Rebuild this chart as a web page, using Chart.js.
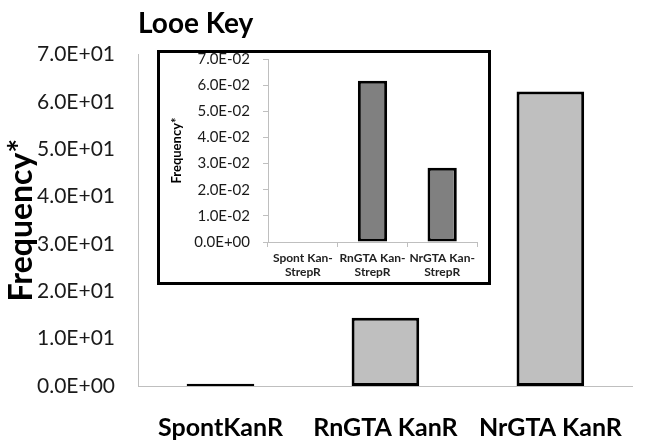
<!DOCTYPE html>
<html>
<head>
<meta charset="utf-8">
<script src="https://cdn.jsdelivr.net/npm/chart.js@4.4.1/dist/chart.umd.min.js"></script>
<style>
html,body{margin:0;padding:0;background:#fff;}
#wrap{position:relative;width:652px;height:440px;overflow:hidden;background:#fff;}
#main{position:absolute;left:0;top:0;}
#insetBox{position:absolute;left:157px;top:50px;width:328px;height:229px;border:3px solid #000;background:#fff;}
#inset{position:absolute;left:160px;top:37px;}
</style>
</head>
<body>
<div id="wrap">
  <canvas id="main" width="652" height="440"></canvas>
  <div id="insetBox"></div>
  <canvas id="inset" width="328" height="245"></canvas>
</div>
<script>
// ---- data ----
const chartTitle = 'Looe Key';
const mainCategories = ['SpontKanR', 'RnGTA KanR', 'NrGTA KanR'];
const mainValues = [0.5, 14.4, 62.2];
const mainTickLabels = ['0.0E+00','1.0E+01','2.0E+01','3.0E+01','4.0E+01','5.0E+01','6.0E+01','7.0E+01'];
const insetCategories = [['Spont Kan-','StrepR'], ['RnGTA Kan-','StrepR'], ['NrGTA Kan-','StrepR']];
const insetValues = [0, 0.0617, 0.0284];
const insetTickLabels = ['0.0E+00','1.0E-02','2.0E-02','3.0E-02','4.0E-02','5.0E-02','6.0E-02','7.0E-02'];
const yTitle = 'Frequency*';

const FONT = 'Lato, "Open Sans", sans-serif';
const AXIS_GRAY = '#bfbfbf';

new Chart(document.getElementById('main'), {
  type: 'bar',
  data: {
    labels: mainCategories,
    datasets: [{
      data: mainValues,
      backgroundColor: '#bfbfbf',
      borderColor: '#000',
      borderWidth: 3,
      borderSkipped: false,
      categoryPercentage: 1,
      barPercentage: 0.41
    }]
  },
  options: {
    responsive: false,
    animation: false,
    layout: { padding: { left: 0, right: 7, top: 0, bottom: 0 } },
    plugins: {
      legend: { display: false },
      tooltip: { enabled: false },
      title: {
        display: true, text: chartTitle, align: 'start', fullSize: false,
        color: '#000', font: { family: FONT, size: 28, weight: 'bold' },
        padding: { top: 7, bottom: 14 }
      }
    },
    scales: {
      x: {
        grid: { display: false, drawTicks: false },
        border: { display: true, color: AXIS_GRAY, width: 1 },
        ticks: { color: '#000', font: { family: FONT, size: 25, weight: 'bold' }, padding: 27, maxRotation: 0, autoSkip: false },
        afterFit: s => { s.height = 54; }
      },
      y: {
        min: 0, max: 70,
        grid: { display: false, drawTicks: false },
        border: { display: true, color: AXIS_GRAY, width: 1 },
        ticks: { stepSize: 10, color: '#1a1a1a', font: { family: FONT, size: 21 }, padding: 23,
                 callback: (v, i) => mainTickLabels[i] },
        title: { display: true, text: yTitle, color: '#000', font: { family: FONT, size: 32, weight: 'bold' }, padding: { top: 2, bottom: 0 } },
        afterFit: s => { s.width = 138; }
      }
    }
  }
});

new Chart(document.getElementById('inset'), {
  type: 'bar',
  data: {
    labels: insetCategories,
    datasets: [{
      data: insetValues,
      backgroundColor: '#808080',
      borderColor: '#000',
      borderWidth: 3,
      borderSkipped: false,
      categoryPercentage: 1,
      barPercentage: 0.42
    }]
  },
  options: {
    responsive: false,
    animation: false,
    layout: { padding: { left: 0, right: 11, top: 0, bottom: 0 } },
    plugins: { legend: { display: false }, tooltip: { enabled: false } },
    scales: {
      x: {
        grid: { display: true, drawOnChartArea: false, drawTicks: true, tickLength: 5, color: AXIS_GRAY, offset: true },
        border: { display: true, color: AXIS_GRAY, width: 1 },
        ticks: { color: '#222', font: { family: FONT, size: 12, weight: 'bold', lineHeight: 1.1 }, padding: 5, maxRotation: 0, autoSkip: false },
        afterFit: s => { s.height = 40; }
      },
      y: {
        min: 0, max: 0.07,
        grid: { display: true, drawOnChartArea: false, drawTicks: true, tickLength: 5, color: AXIS_GRAY },
        border: { display: true, color: AXIS_GRAY, width: 1 },
        ticks: { stepSize: 0.01, color: '#1a1a1a', font: { family: FONT, size: 15 }, padding: 13,
                 callback: (v, i) => insetTickLabels[i] },
        title: { display: true, text: yTitle, color: '#000', font: { family: FONT, size: 13, weight: 'bold' }, padding: { top: 9, bottom: 0 } },
        afterFit: s => { s.width = 108; }
      }
    }
  }
});
</script>
</body>
</html>
